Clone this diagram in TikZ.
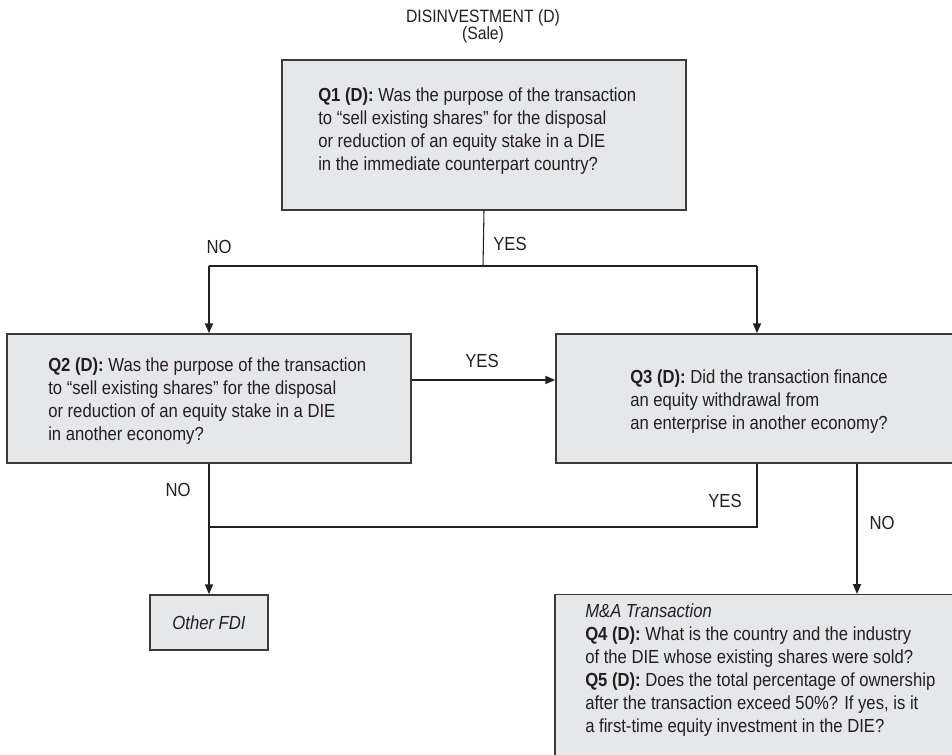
\documentclass[tikz,border=0pt]{standalone}
\usepackage{fontspec}
\setmainfont{Liberation Sans}[FakeStretch=0.88]
\usetikzlibrary{arrows.meta}
\definecolor{boxfill}{HTML}{E6E7E8}
\definecolor{ink}{HTML}{231F20}
\definecolor{edge}{HTML}{3A3A3B}
\begin{document}
\begin{tikzpicture}[x=0.75pt,y=-0.75pt,
  every node/.style={text=ink, font=\fontsize{14.2}{17.2}\selectfont},
  qbox/.style={draw=edge, line width=1.1pt, fill=boxfill, inner sep=0pt, rectangle},
  qtext/.style={align=left, inner sep=0pt, anchor=west},
  lbl/.style={inner sep=0pt},
  link/.style={draw=ink, line width=0.8pt},
  arr/.style={draw=ink, line width=1.3pt, -{Triangle[length=7.5pt,width=6pt]}},
]
\useasboundingbox (0,0) rectangle (952,754);
\clip (0,0) rectangle (952,754);

% title
\node[lbl, align=center, font=\fontsize{13.4}{12.8}\selectfont] (title) at (483,26) {DISINVESTMENT (D)\\(Sale)};

% boxes
\node[qbox, minimum width=303pt, minimum height=112.5pt] (q1) at (484,135) {};
\node[qtext] (q1t) at (318,131) {\textbf{Q1 (D):} Was the purpose of the transaction\\to “sell existing shares” for the disposal\\or reduction of an equity stake in a DIE\\in the immediate counterpart country?};

\node[qbox, minimum width=303pt, minimum height=96.75pt] (q2) at (209,398.5) {};
\node[qtext] (q2t) at (48,401) {\textbf{Q2 (D):} Was the purpose of the transaction\\to “sell existing shares” for the disposal\\or reduction of an equity stake in a DIE\\in another economy?};

\node[qbox, minimum width=301.5pt, minimum height=96.75pt] (q3) at (757,398.5) {};
\node[qtext] (q3t) at (630,402) {\textbf{Q3 (D):} Did the transaction finance\\an equity withdrawal from\\an enterprise in another economy?};

\node[qbox, minimum width=88.5pt, minimum height=41.25pt] (fdi) at (209,622.5) {};
\node[lbl, font=\fontsize{14.2}{17.2}\selectfont\itshape] (fdit) at (fdi.center) {Other FDI};

\node[qbox, minimum width=453pt, minimum height=160pt, anchor=north] (ma) at (857,594) {};
\node[qtext, anchor=north west] (mat) at (585,603.5) {\textit{M\&A Transaction}\\\textbf{Q4 (D):} What is the country and the industry\\of the DIE whose existing shares were sold?\\\textbf{Q5 (D):} Does the total percentage of ownership\\after the transaction exceed 50\%? If yes, is it\\a first-time equity investment in the DIE?};

% connectors
\coordinate (split) at (483,266);
\coordinate (merge) at (209,527);
\draw[link] (q1.south) -- (split);
\draw[link] (split -| q2.north) -- (split -| q3.north);
\draw[arr] (split -| q2.north) -- (q2.north);
\draw[arr] (split -| q3.north) -- (q3.north);
\draw[arr] ([yshift=13.9pt]q2.east) -- ([yshift=13.9pt]q3.west);
\draw[arr] (q2.south) -- (fdi.north);
\draw[link] (q3.south) |- (merge);
\draw[arr] (q3.south -| ma.north) -- (ma.north);

% labels
\node[lbl] (l1) at (219,247) {NO};
\node[lbl] (l2) at (510,244) {YES};
\node[lbl] (l3) at (482,361) {YES};
\node[lbl] (l4) at (178,490) {NO};
\node[lbl] (l5) at (725,501) {YES};
\node[lbl] (l6) at (882,523) {NO};
\end{tikzpicture}
\end{document}
